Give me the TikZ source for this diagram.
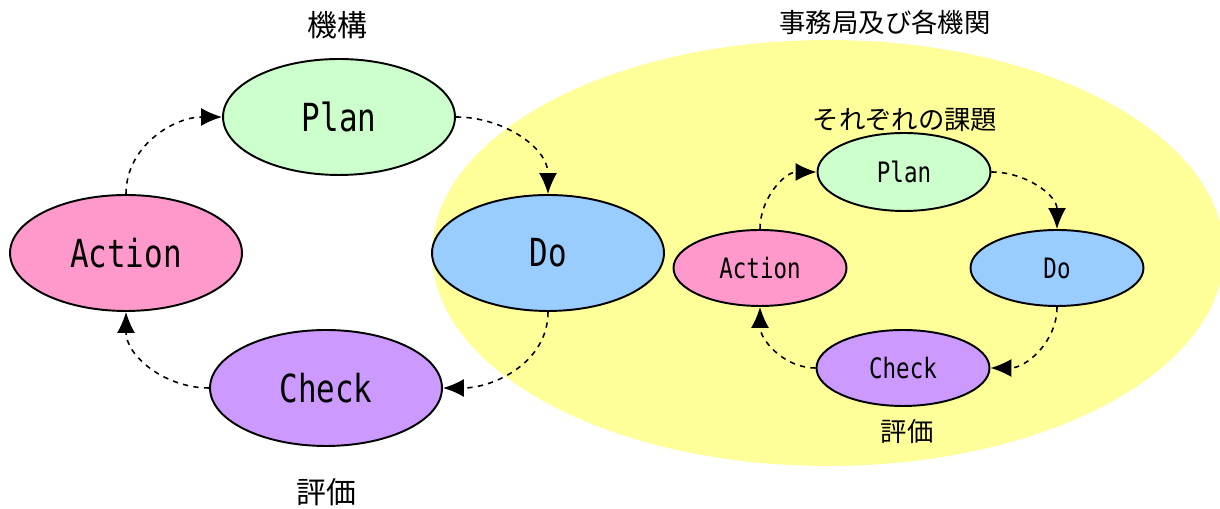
\documentclass[tikz,border=0pt]{standalone}
\usepackage{fontspec}
\setmainfont{Noto Sans CJK JP}
\newfontfamily\pdcafont[FakeStretch=0.8]{DejaVu Sans Mono}
\usetikzlibrary{shapes.geometric,arrows.meta}
\definecolor{pdcagreen}{HTML}{CCFFCC}
\definecolor{pdcapink}{HTML}{FF99CC}
\definecolor{pdcablue}{HTML}{99CCFF}
\definecolor{pdcapurple}{HTML}{CC99FF}
\definecolor{pdcayellow}{HTML}{FFFF99}

\begin{document}
\begin{tikzpicture}[x=0.02cm, y=0.02cm,
  bigstage/.style={ellipse, draw, line width=1.1pt, inner sep=0pt,
    minimum width=4.64cm, minimum height=2.32cm, font=\pdcafont\fontsize{22}{24}\selectfont},
  smallstage/.style={ellipse, draw, line width=1.1pt, inner sep=0pt,
    minimum width=3.46cm, minimum height=1.52cm, font=\pdcafont\fontsize{16}{18}\selectfont},
  cycle/.style={dashed, line width=0.9pt, -{Latex[length=0.42cm, width=0.36cm]}},
  title/.style={font=\fontsize{15}{17}\selectfont}]
\useasboundingbox (0,0) rectangle (1220,509);

% background for the agencies
\fill[pdcayellow] (828,256) ellipse [x radius=7.92cm, y radius=4.26cm];

% organisation cycle
\node[title, font=\fontsize{17}{19}\selectfont] (kikou) at (337,484) {機構};
\node[bigstage, fill=pdcagreen] (plan) at (339,392) {Plan};
\node[bigstage, fill=pdcapink] (action) at (126,256) {Action};
\node[bigstage, fill=pdcablue] (do) at (548,256) {Do};
\node[bigstage, fill=pdcapurple] (check) at (326,121) {Check};
\node[title, font=\fontsize{17}{19}\selectfont] (hyouka) at (326,17) {評価};
\draw[cycle] (action.north) to[out=90, in=180] (plan.west);
\draw[cycle] (plan.east) to[out=0, in=90] (do.north);
\draw[cycle] (do.south) to[out=-90, in=0] (check.east);
\draw[cycle] (check.west) to[out=180, in=-90] (action.south);

% each agency's own cycle
\node[title] (jimukyoku) at (885,487) {事務局及び各機関};
\node[title] (kadai) at (905,389) {それぞれの課題};
\node[smallstage, fill=pdcagreen, minimum height=1.56cm] (splan) at (904,337) {Plan};
\node[smallstage, fill=pdcapink] (saction) at (760,241) {Action};
\node[smallstage, fill=pdcablue] (sdo) at (1057,241) {Do};
\node[smallstage, fill=pdcapurple] (scheck) at (903,141) {Check};
\node[title] (shyouka) at (907,77) {評価};
\draw[cycle] (saction.north) to[out=90, in=180] (splan.west);
\draw[cycle] (splan.east) to[out=0, in=90] (sdo.north);
\draw[cycle] (sdo.south) to[out=-90, in=0] (scheck.east);
\draw[cycle] (scheck.west) to[out=180, in=-90] (saction.south);
\end{tikzpicture}
\end{document}
